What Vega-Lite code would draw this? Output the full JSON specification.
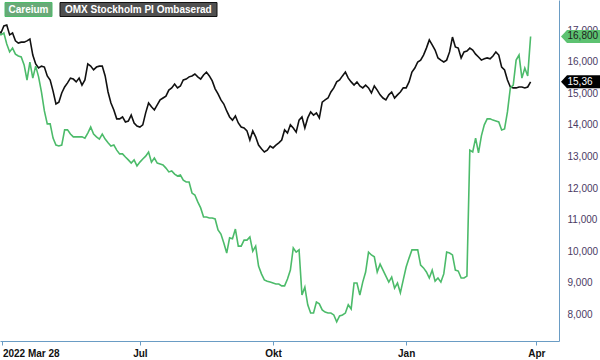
{
"$schema": "https://vega.github.io/schema/vega-lite/v6.json",
"width": 559, "height": 341,
"autosize": {"type": "none"},
"padding": {"left": 0, "top": 0, "right": 41, "bottom": 19},
"background": "white",
"config": {"view": {"stroke": null}, "font": "Liberation Sans"},
"datasets": {
"omx": [
{"d":"2022-03-23","v":17070},{"d":"2022-03-25","v":17000},{"d":"2022-03-27","v":16910},{"d":"2022-03-29","v":17130},{"d":"2022-03-31","v":17160},
{"d":"2022-04-02","v":16850},{"d":"2022-04-04","v":16910},{"d":"2022-04-06","v":16660},{"d":"2022-04-08","v":16590},{"d":"2022-04-10","v":16620},{"d":"2022-04-12","v":16620},{"d":"2022-04-14","v":16660},{"d":"2022-04-16","v":16720},{"d":"2022-04-18","v":16210},{"d":"2022-04-20","v":15930},{"d":"2022-04-22","v":15800},{"d":"2022-04-24","v":15860},{"d":"2022-04-26","v":15830},{"d":"2022-04-28","v":15550},{"d":"2022-04-30","v":15420},
{"d":"2022-05-02","v":15070},{"d":"2022-05-04","v":14660},{"d":"2022-05-06","v":14720},{"d":"2022-05-08","v":15010},{"d":"2022-05-10","v":15200},{"d":"2022-05-12","v":15330},{"d":"2022-05-14","v":15480},{"d":"2022-05-16","v":15450},{"d":"2022-05-18","v":15360},{"d":"2022-05-20","v":15480},{"d":"2022-05-22","v":15260},{"d":"2022-05-24","v":15420},{"d":"2022-05-26","v":15930},{"d":"2022-05-28","v":15860},{"d":"2022-05-30","v":15740},
{"d":"2022-06-01","v":15830},{"d":"2022-06-03","v":15860},{"d":"2022-06-05","v":15860},{"d":"2022-06-07","v":15550},{"d":"2022-06-09","v":15040},{"d":"2022-06-11","v":14690},{"d":"2022-06-13","v":14470},{"d":"2022-06-15","v":14190},{"d":"2022-06-17","v":14190},{"d":"2022-06-19","v":14250},{"d":"2022-06-21","v":14090},{"d":"2022-06-23","v":14120},{"d":"2022-06-25","v":14310},{"d":"2022-06-27","v":14060},{"d":"2022-06-29","v":13960},
{"d":"2022-07-01","v":13930},{"d":"2022-07-03","v":14000},{"d":"2022-07-05","v":14380},{"d":"2022-07-07","v":14690},{"d":"2022-07-09","v":14570},{"d":"2022-07-11","v":14470},{"d":"2022-07-13","v":14630},{"d":"2022-07-15","v":14790},{"d":"2022-07-17","v":14850},{"d":"2022-07-19","v":14910},{"d":"2022-07-21","v":15100},{"d":"2022-07-23","v":15170},{"d":"2022-07-25","v":15290},{"d":"2022-07-27","v":15170},{"d":"2022-07-29","v":15230},{"d":"2022-07-31","v":15420},
{"d":"2022-08-02","v":15450},{"d":"2022-08-04","v":15520},{"d":"2022-08-06","v":15550},{"d":"2022-08-08","v":15610},{"d":"2022-08-10","v":15520},{"d":"2022-08-12","v":15450},{"d":"2022-08-14","v":15580},{"d":"2022-08-16","v":15670},{"d":"2022-08-18","v":15550},{"d":"2022-08-20","v":15390},{"d":"2022-08-22","v":15140},{"d":"2022-08-24","v":14980},{"d":"2022-08-26","v":14790},{"d":"2022-08-28","v":14660},{"d":"2022-08-30","v":14440},
{"d":"2022-09-01","v":14250},{"d":"2022-09-03","v":14150},{"d":"2022-09-05","v":14280},{"d":"2022-09-07","v":14060},{"d":"2022-09-09","v":13930},{"d":"2022-09-11","v":13900},{"d":"2022-09-13","v":13810},{"d":"2022-09-15","v":13520},{"d":"2022-09-17","v":13810},{"d":"2022-09-19","v":13620},{"d":"2022-09-21","v":13360},{"d":"2022-09-23","v":13240},{"d":"2022-09-25","v":13140},{"d":"2022-09-27","v":13200},{"d":"2022-09-29","v":13330},
{"d":"2022-10-01","v":13270},{"d":"2022-10-03","v":13360},{"d":"2022-10-05","v":13430},{"d":"2022-10-07","v":13520},{"d":"2022-10-09","v":13840},{"d":"2022-10-11","v":13740},{"d":"2022-10-13","v":14000},{"d":"2022-10-15","v":13900},{"d":"2022-10-17","v":13770},{"d":"2022-10-19","v":14150},{"d":"2022-10-21","v":14250},{"d":"2022-10-23","v":13900},{"d":"2022-10-25","v":14220},{"d":"2022-10-27","v":14410},{"d":"2022-10-29","v":14310},{"d":"2022-10-31","v":14380},
{"d":"2022-11-02","v":14220},{"d":"2022-11-04","v":14720},{"d":"2022-11-06","v":14790},{"d":"2022-11-08","v":14850},{"d":"2022-11-10","v":15040},{"d":"2022-11-12","v":15170},{"d":"2022-11-14","v":15360},{"d":"2022-11-16","v":15420},{"d":"2022-11-18","v":15550},{"d":"2022-11-20","v":15670},{"d":"2022-11-22","v":15480},{"d":"2022-11-24","v":15360},{"d":"2022-11-26","v":15260},{"d":"2022-11-28","v":15360},{"d":"2022-11-30","v":15230},
{"d":"2022-12-02","v":15170},{"d":"2022-12-04","v":15260},{"d":"2022-12-06","v":15170},{"d":"2022-12-08","v":15010},{"d":"2022-12-10","v":15230},{"d":"2022-12-12","v":15100},{"d":"2022-12-14","v":14950},{"d":"2022-12-16","v":14850},{"d":"2022-12-18","v":14790},{"d":"2022-12-20","v":14950},{"d":"2022-12-22","v":15040},{"d":"2022-12-24","v":14850},{"d":"2022-12-26","v":14950},{"d":"2022-12-28","v":15040},{"d":"2022-12-30","v":15170},
{"d":"2023-01-01","v":15170},{"d":"2023-01-03","v":15360},{"d":"2023-01-05","v":15670},{"d":"2023-01-07","v":15800},{"d":"2023-01-09","v":15990},{"d":"2023-01-11","v":16050},{"d":"2023-01-13","v":16210},{"d":"2023-01-15","v":16430},{"d":"2023-01-17","v":16690},{"d":"2023-01-19","v":16530},{"d":"2023-01-21","v":16370},{"d":"2023-01-23","v":16120},{"d":"2023-01-25","v":16050},{"d":"2023-01-27","v":15990},{"d":"2023-01-29","v":16050},{"d":"2023-01-31","v":16310},
{"d":"2023-02-02","v":16780},{"d":"2023-02-04","v":16470},{"d":"2023-02-06","v":16430},{"d":"2023-02-08","v":16120},{"d":"2023-02-10","v":16310},{"d":"2023-02-12","v":16340},{"d":"2023-02-14","v":16430},{"d":"2023-02-16","v":16370},{"d":"2023-02-18","v":16240},{"d":"2023-02-20","v":16150},{"d":"2023-02-22","v":16050},{"d":"2023-02-24","v":16090},{"d":"2023-02-26","v":16120},{"d":"2023-02-28","v":16090},
{"d":"2023-03-02","v":16180},{"d":"2023-03-04","v":16310},{"d":"2023-03-06","v":16210},{"d":"2023-03-08","v":15830},{"d":"2023-03-10","v":15740},{"d":"2023-03-12","v":15420},{"d":"2023-03-14","v":15200},{"d":"2023-03-16","v":15170},{"d":"2023-03-18","v":15170},{"d":"2023-03-20","v":15200},{"d":"2023-03-22","v":15200},{"d":"2023-03-24","v":15170},{"d":"2023-03-26","v":15200},{"d":"2023-03-28","v":15360}
],
"careium": [
{"d":"2022-03-23","v":17070},{"d":"2022-03-25","v":16910},{"d":"2022-03-27","v":16850},{"d":"2022-03-29","v":16910},{"d":"2022-03-31","v":16560},
{"d":"2022-04-02","v":16310},{"d":"2022-04-04","v":16430},{"d":"2022-04-06","v":16240},{"d":"2022-04-08","v":16180},{"d":"2022-04-10","v":16150},{"d":"2022-04-12","v":15900},{"d":"2022-04-14","v":15420},{"d":"2022-04-16","v":15990},{"d":"2022-04-18","v":15480},{"d":"2022-04-20","v":15860},{"d":"2022-04-22","v":15520},{"d":"2022-04-24","v":15040},{"d":"2022-04-26","v":14440},{"d":"2022-04-28","v":14030},{"d":"2022-04-30","v":14030},
{"d":"2022-05-02","v":13580},{"d":"2022-05-04","v":13360},{"d":"2022-05-06","v":13330},{"d":"2022-05-08","v":13360},{"d":"2022-05-10","v":13840},{"d":"2022-05-12","v":13840},{"d":"2022-05-14","v":13710},{"d":"2022-05-16","v":13620},{"d":"2022-05-18","v":13620},{"d":"2022-05-20","v":13620},{"d":"2022-05-22","v":13620},{"d":"2022-05-24","v":13580},{"d":"2022-05-26","v":13740},{"d":"2022-05-28","v":13930},{"d":"2022-05-30","v":13710},
{"d":"2022-06-01","v":13620},{"d":"2022-06-03","v":13550},{"d":"2022-06-05","v":13710},{"d":"2022-06-07","v":13550},{"d":"2022-06-09","v":13430},{"d":"2022-06-11","v":13330},{"d":"2022-06-13","v":13360},{"d":"2022-06-15","v":13200},{"d":"2022-06-17","v":13080},{"d":"2022-06-19","v":13080},{"d":"2022-06-21","v":12980},{"d":"2022-06-23","v":12890},{"d":"2022-06-25","v":12790},{"d":"2022-06-27","v":12890},{"d":"2022-06-29","v":12700},
{"d":"2022-07-01","v":12820},{"d":"2022-07-03","v":12920},{"d":"2022-07-05","v":13010},{"d":"2022-07-07","v":13140},{"d":"2022-07-09","v":12820},{"d":"2022-07-11","v":12950},{"d":"2022-07-13","v":12790},{"d":"2022-07-15","v":12760},{"d":"2022-07-17","v":12730},{"d":"2022-07-19","v":12630},{"d":"2022-07-21","v":12510},{"d":"2022-07-23","v":12540},{"d":"2022-07-25","v":12440},{"d":"2022-07-27","v":12380},{"d":"2022-07-29","v":12410},{"d":"2022-07-31","v":12250},
{"d":"2022-08-02","v":12190},{"d":"2022-08-04","v":12190},{"d":"2022-08-06","v":11840},{"d":"2022-08-08","v":11780},{"d":"2022-08-10","v":11560},{"d":"2022-08-12","v":11370},{"d":"2022-08-14","v":11080},{"d":"2022-08-16","v":11080},{"d":"2022-08-18","v":11050},{"d":"2022-08-20","v":11050},{"d":"2022-08-22","v":11020},{"d":"2022-08-24","v":10670},{"d":"2022-08-26","v":10540},{"d":"2022-08-28","v":10260},{"d":"2022-08-30","v":9940},
{"d":"2022-09-01","v":10420},{"d":"2022-09-03","v":10390},{"d":"2022-09-05","v":10700},{"d":"2022-09-07","v":10160},{"d":"2022-09-09","v":10160},{"d":"2022-09-11","v":10350},{"d":"2022-09-13","v":10350},{"d":"2022-09-15","v":10450},{"d":"2022-09-17","v":10000},{"d":"2022-09-19","v":10160},{"d":"2022-09-21","v":9530},{"d":"2022-09-23","v":9280},{"d":"2022-09-25","v":9090},{"d":"2022-09-27","v":9050},{"d":"2022-09-29","v":9020},
{"d":"2022-10-01","v":8990},{"d":"2022-10-03","v":8960},{"d":"2022-10-05","v":8960},{"d":"2022-10-07","v":8900},{"d":"2022-10-09","v":8900},{"d":"2022-10-11","v":9120},{"d":"2022-10-13","v":9400},{"d":"2022-10-15","v":10100},{"d":"2022-10-17","v":9970},{"d":"2022-10-19","v":10040},{"d":"2022-10-21","v":8610},{"d":"2022-10-23","v":8860},{"d":"2022-10-25","v":8300},{"d":"2022-10-27","v":8040},{"d":"2022-10-29","v":8040},{"d":"2022-10-31","v":8390},
{"d":"2022-11-02","v":8330},{"d":"2022-11-04","v":8140},{"d":"2022-11-06","v":8070},{"d":"2022-11-08","v":8040},{"d":"2022-11-10","v":8040},{"d":"2022-11-12","v":7980},{"d":"2022-11-14","v":7760},{"d":"2022-11-16","v":7950},{"d":"2022-11-18","v":7980},{"d":"2022-11-20","v":8040},{"d":"2022-11-22","v":8300},{"d":"2022-11-24","v":8170},{"d":"2022-11-26","v":8990},{"d":"2022-11-28","v":8990},{"d":"2022-11-30","v":8610},
{"d":"2022-12-02","v":9020},{"d":"2022-12-04","v":9340},{"d":"2022-12-06","v":9970},{"d":"2022-12-08","v":9880},{"d":"2022-12-10","v":9820},{"d":"2022-12-12","v":9340},{"d":"2022-12-14","v":9590},{"d":"2022-12-16","v":9400},{"d":"2022-12-18","v":9210},{"d":"2022-12-20","v":9020},{"d":"2022-12-22","v":9180},{"d":"2022-12-24","v":8830},{"d":"2022-12-26","v":8990},{"d":"2022-12-28","v":8680},{"d":"2022-12-30","v":9090},
{"d":"2023-01-01","v":9500},{"d":"2023-01-03","v":9780},{"d":"2023-01-05","v":10040},{"d":"2023-01-07","v":10040},{"d":"2023-01-09","v":10040},{"d":"2023-01-11","v":9560},{"d":"2023-01-13","v":9470},{"d":"2023-01-15","v":9340},{"d":"2023-01-17","v":9150},{"d":"2023-01-19","v":9400},{"d":"2023-01-21","v":9050},{"d":"2023-01-23","v":9150},{"d":"2023-01-25","v":9020},{"d":"2023-01-27","v":9280},{"d":"2023-01-29","v":9970},{"d":"2023-01-31","v":9940},
{"d":"2023-02-02","v":9880},{"d":"2023-02-04","v":9400},{"d":"2023-02-06","v":9370},{"d":"2023-02-08","v":9150},{"d":"2023-02-10","v":9150},{"d":"2023-02-12","v":9210},{"d":"2023-02-14","v":13200},{"d":"2023-02-16","v":13140},{"d":"2023-02-18","v":13580},{"d":"2023-02-20","v":13110},{"d":"2023-02-22","v":13650},{"d":"2023-02-24","v":14000},{"d":"2023-02-26","v":14190},{"d":"2023-02-28","v":14190},
{"d":"2023-03-02","v":14150},{"d":"2023-03-04","v":14120},{"d":"2023-03-06","v":14090},{"d":"2023-03-08","v":13840},{"d":"2023-03-10","v":13870},{"d":"2023-03-12","v":14410},{"d":"2023-03-14","v":15170},{"d":"2023-03-16","v":15260},{"d":"2023-03-18","v":16050},{"d":"2023-03-20","v":16210},{"d":"2023-03-22","v":15480},{"d":"2023-03-24","v":15800},{"d":"2023-03-26","v":15550},{"d":"2023-03-28","v":16800}
],
"tags": [
{"s":"Careium","v":16800,"t":"16,800"},
{"s":"OMX Stockholm PI Ombaserad","v":15364,"t":"15,36"}
]
},
"encoding": {
"x": {"field": "d", "type": "temporal",
 "scale": {"type": "utc", "nice": false,
  "domain": [{"year":2022,"month":3,"date":26,"hours":8,"utc":true},{"year":2023,"month":4,"date":16,"hours":15,"utc":true}]},
 "axis": {"title": null, "grid": false,
  "values": [{"year":2022,"month":3,"date":28,"utc":true},{"year":2022,"month":7,"date":1,"utc":true},{"year":2022,"month":10,"date":1,"utc":true},{"year":2023,"month":1,"date":1,"utc":true},{"year":2023,"month":4,"date":1,"utc":true}],
  "labelExpr": "utcmonth(datum.value) === 2 ? '2022 Mar 28' : utcmonth(datum.value) === 6 ? 'Jul' : utcmonth(datum.value) === 9 ? 'Okt' : utcmonth(datum.value) === 0 ? 'Jan' : 'Apr'",
  "domainColor": "#6a9cc4", "tickColor": "#6a9cc4", "tickSize": 4, "labelPadding": 3,
  "labelFont": "Liberation Sans", "labelFontSize": 10, "labelFontWeight": "bold", "labelColor": "#111111",
  "labelFlush": 10, "labelFlushOffset": 0, "labelOverlap": false}},
"y": {"field": "v", "type": "quantitative",
 "scale": {"domain": [7155, 17954], "nice": false, "zero": false},
 "axis": {"orient": "right", "title": null, "grid": false, "ticks": false,
  "values": [8000, 9000, 10000, 11000, 12000, 13000, 14000, 15000, 16000, 17000],
  "format": ",d", "labelPadding": 8, "domainColor": "#6a9cc4", "labelOverlap": false,
  "labelFont": "Liberation Sans", "labelFontSize": 10, "labelColor": "#4a3a63"}}
},
"layer": [
{
"data": {"name": "omx"},
"mark": {"type": "line", "strokeWidth": 1.6},
"encoding": {
"color": {"datum": "OMX Stockholm PI Ombaserad",
 "scale": {"domain": ["Careium", "OMX Stockholm PI Ombaserad"], "range": ["#4cbb6a", "#111111"]},
 "legend": {"orient": "none", "legendX": -1.5, "legendY": 4.5, "direction": "horizontal", "title": null,
  "padding": 0, "labelOffset": 0, "columnPadding": 0.5, "gridAlign": "none",
  "labelColor": "#ffffff", "labelFont": "Liberation Sans", "labelFontSize": 10, "labelFontWeight": "bold", "labelLimit": 300,
  "symbolSize": 4, "symbolStrokeWidth": 1, "symbolOpacity": 1,
  "encode": {"symbols": {"update": {
   "shape": {"signal": "datum.value === 'Careium' ? 'M1.5,-7H48.5V7H1.5Z' : 'M0,-7H157V7H0Z'"},
   "fill": {"signal": "datum.value === 'Careium' ? '#69a978' : '#505050'"},
   "stroke": {"signal": "datum.value === 'Careium' ? '#a6d4b1' : '#2b2b2b'"},
   "opacity": {"value": 1}}}}}}
}
},
{
"data": {"name": "careium"},
"mark": {"type": "line", "strokeWidth": 1.6},
"encoding": {"color": {"datum": "Careium"}}
},
{
"data": {"name": "tags"},
"mark": {"type": "point", "shape": "M2,0L8,-6.5H45V6.5H8Z", "size": 4, "filled": true, "opacity": 1, "strokeWidth": 0},
"encoding": {"x": {"value": "width"},
 "fill": {"condition": {"test": "datum.s === 'Careium'", "value": "#5dc271"}, "value": "#000000"}}
},
{
"data": {"name": "tags"},
"mark": {"type": "text", "align": "left", "baseline": "middle", "dx": 8.5, "fontSize": 10, "font": "Liberation Sans"},
"encoding": {"x": {"value": "width"}, "text": {"field": "t"},
 "fill": {"condition": {"test": "datum.s === 'Careium'", "value": "#1d1d1d"}, "value": "#ffffff"}}
}
]
}
